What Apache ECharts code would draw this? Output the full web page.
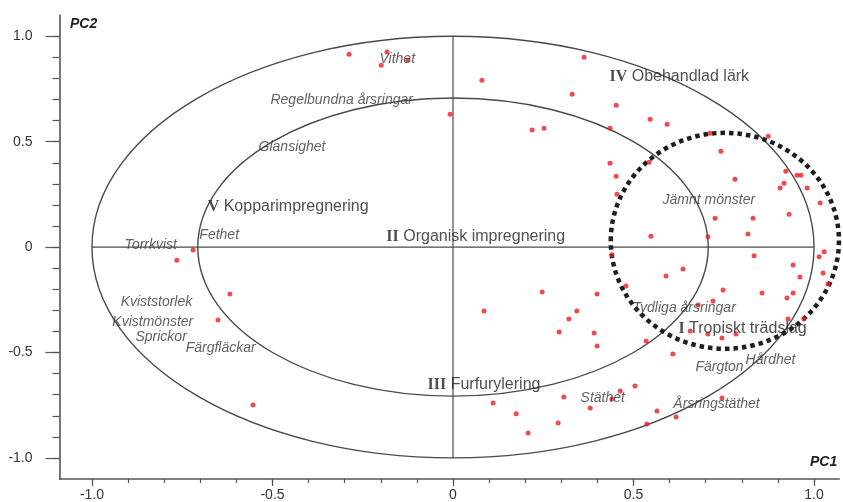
<!DOCTYPE html>
<html>
<head>
<meta charset="utf-8">
<script src="https://cdn.jsdelivr.net/npm/echarts@6/dist/echarts.min.js"></script>
<style>html,body{margin:0;padding:0;background:#fff}#c{width:843px;height:502px}</style>
</head>
<body>
<div id="c"></div>
<script>
// ---- data ----
const pc1 = [-0.288,-0.183,-0.199,-0.125,0.080,0.330,-0.008,0.219,0.252,0.363,0.452,0.546,0.593,0.435,0.712,0.873,0.742,0.435,0.543,0.452,0.922,0.953,0.964,0.781,0.917,0.906,0.981,0.454,1.017,0.931,0.726,0.831,0.817,0.548,0.706,
  0.834,1.014,1.028,0.440,0.942,0.637,0.590,0.961,1.025,1.039,0.479,0.748,0.399,0.856,0.942,0.925,0.720,0.679,0.343,0.321,0.928,0.972,0.294,0.391,0.399,0.535,0.657,0.706,0.745,0.784,0.609,0.247,0.086,0.307,0.111,0.175,0.291,0.208,0.380,0.440,0.463,0.504,0.565,0.537,0.618,0.745,
  -0.720,-0.765,-0.618,-0.651,-0.554];
const pc2 = [0.915,0.925,0.863,0.886,0.791,0.725,0.630,0.555,0.564,0.900,0.673,0.607,0.583,0.564,0.540,0.526,0.455,0.398,0.403,0.336,0.360,0.341,0.341,0.322,0.303,0.280,0.280,0.251,0.209,0.156,0.137,0.137,0.062,0.052,0.049,
  -0.041,-0.046,-0.022,-0.036,-0.085,-0.104,-0.137,-0.142,-0.123,-0.175,-0.185,-0.204,-0.223,-0.218,-0.218,-0.242,-0.256,-0.275,-0.303,-0.341,-0.341,-0.341,-0.403,-0.408,-0.469,-0.445,-0.398,-0.412,-0.431,-0.412,-0.507,-0.213,-0.303,-0.711,-0.739,-0.791,-0.834,-0.882,-0.763,-0.720,-0.682,-0.659,-0.777,-0.839,-0.806,-0.716,
  -0.014,-0.062,-0.223,-0.346,-0.749];

const attrNames = ['Vithet','Regelbundna årsringar','Glansighet','Fethet','Torrkvist','Kviststorlek','Kvistmönster','Sprickor','Färgfläckar','Jämnt mönster','Tydliga årsringar','Hårdhet','Färgton','Stäthet','Årsringstäthet'];
const attrX = [-0.205,-0.507,-0.540,-0.704,-0.911,-0.922,-0.945,-0.881,-0.742,0.579,0.496,0.809,0.670,0.352,0.609];
const attrY = [0.892,0.698,0.475,0.058,0.011,-0.259,-0.354,-0.425,-0.477,0.224,-0.288,-0.534,-0.567,-0.714,-0.747];

const groupNumerals = ['IV','V','II','I','III'];
const groupNames = ['Obehandlad lärk','Kopparimpregnering','Organisk impregnering','Tropiskt trädslag','Furfurylering'];
const groupX = [0.432,-0.681,-0.186,0.623,-0.072];
const groupY = [0.807,0.191,0.049,-0.387,-0.653];

const refRadii = [1.0, 0.707];
const focusCircle = {cx: 0.753, cy: 0.030, rx: 0.316, ry: 0.512};

const majorTicks = [-1.0,-0.5,0,0.5,1.0];
const minorTicks = [-1.0,-0.9,-0.8,-0.7,-0.6,-0.5,-0.4,-0.3,-0.2,-0.1,0,0.1,0.2,0.3,0.4,0.5,0.6,0.7,0.8,0.9,1.0];

// ---- chart ----
const chart = echarts.init(document.getElementById('c'), null, {renderer:'canvas'});
const fmt = v => (Math.abs(v) < 1e-9 ? '0' : v.toFixed(1));
const axisColor = '#555';
const X_MIN = -1.09, X_MAX = 1.07, Y_MIN = -1.1, Y_MAX = 1.1;

function xAxisDef(major) {
  return {
    type:'value', min:X_MIN, max:X_MAX, position:'bottom',
    axisLine:{show:major, onZero:false, lineStyle:{color:axisColor, width:1.6}},
    axisTick:{show:true, inside:false, customValues: major ? majorTicks : minorTicks, length: major ? 7 : 4, lineStyle:{color:axisColor, width:1.2}},
    axisLabel:{show:major, customValues:majorTicks, formatter:fmt, fontSize:14, color:'#333', margin:9, fontFamily:'Liberation Sans, Arial, sans-serif'},
    splitLine:{show:false}
  };
}
function yAxisDef(major) {
  return {
    type:'value', min:Y_MIN, max:Y_MAX, position:'left',
    axisLine:{show:major, onZero:false, lineStyle:{color:axisColor, width:1.6}},
    axisTick:{show:true, inside:false, customValues: major ? majorTicks : minorTicks, length: major ? 14 : 7, lineStyle:{color:axisColor, width:1.2}},
    axisLabel:{show:major, customValues:majorTicks, formatter:fmt, fontSize:14, color:'#333', margin:27, fontFamily:'Liberation Sans, Arial, sans-serif'},
    splitLine:{show:false}
  };
}

const italicStyle = {fontFamily:'Liberation Sans, Arial, sans-serif', fontStyle:'italic', fontSize:14, color:'#3a3a3a'};

chart.setOption({
  animation:false,
  backgroundColor:'#fff',
  grid:{left:59.5, right:3.7, top:15.2, bottom:22.6, containLabel:false},
  xAxis:[xAxisDef(true), xAxisDef(false)],
  yAxis:[yAxisDef(true), yAxisDef(false)],
  graphic:[
    {type:'text', left:70, top:17, style:{text:'PC2', font:'italic bold 14px "Liberation Sans", Arial, sans-serif', fill:'#222'}},
    {type:'text', left:810, top:455, style:{text:'PC1', font:'italic bold 14px "Liberation Sans", Arial, sans-serif', fill:'#222'}}
  ],
  series:[
    {
      type:'custom', coordinateSystem:'cartesian2d', xAxisIndex:0, yAxisIndex:0, clip:false, z:1, silent:true,
      data:[[0,0]],
      renderItem:function(params, api){
        const c = api.coord([0,0]);
        const u = api.size([1,1]);
        const kids = [];
        refRadii.forEach(r => kids.push({type:'ellipse', shape:{cx:c[0], cy:c[1], rx:u[0]*r, ry:u[1]*r}, style:{fill:'none', stroke:'#4a4a4a', lineWidth:1.4}}));
        const h1 = api.coord([-1,0]), h2 = api.coord([1,0]);
        const v1 = api.coord([0,-1]), v2 = api.coord([0,1]);
        kids.push({type:'line', shape:{x1:h1[0], y1:h1[1], x2:h2[0], y2:h2[1]}, style:{stroke:'#4a4a4a', lineWidth:1.2}});
        kids.push({type:'line', shape:{x1:v1[0], y1:v1[1], x2:v2[0], y2:v2[1]}, style:{stroke:'#4a4a4a', lineWidth:1.2}});
        const fc = api.coord([focusCircle.cx, focusCircle.cy]);
        kids.push({type:'ellipse', shape:{cx:fc[0], cy:fc[1], rx:u[0]*focusCircle.rx, ry:u[1]*focusCircle.ry}, style:{fill:'none', stroke:'#1e1e1e', lineWidth:4.5, lineDash:[4.5,4]}});
        return {type:'group', children:kids};
      }
    },
    {
      type:'scatter', xAxisIndex:0, yAxisIndex:0, z:3, symbol:'circle', symbolSize:5,
      itemStyle:{color:'#ee1c24'},
      data: pc1.map((x,i) => [x, pc2[i]])
    },
    {
      type:'scatter', xAxisIndex:0, yAxisIndex:0, z:4, symbolSize:1, itemStyle:{color:'rgba(0,0,0,0)'}, silent:true,
      label:{show:true, position:'right', distance:0, formatter:p => p.name, ...italicStyle, verticalAlign:'middle', align:'left'},
      labelLayout:{hideOverlap:false},
      data: attrNames.map((n,i) => ({name:n, value:[attrX[i], attrY[i]]}))
    },
    {
      type:'scatter', xAxisIndex:0, yAxisIndex:0, z:4, symbolSize:1, itemStyle:{color:'rgba(0,0,0,0)'}, silent:true,
      label:{show:true, position:'right', distance:0, verticalAlign:'middle', align:'left',
        formatter:p => '{n|' + groupNumerals[p.dataIndex] + '}{t| ' + p.name + '}',
        rich:{
          n:{fontFamily:'Liberation Serif, Times New Roman, serif', fontWeight:'bold', fontSize:16, color:'#222'},
          t:{fontFamily:'Liberation Sans, Arial, sans-serif', fontSize:16, color:'#222'}
        }},
      labelLayout:{hideOverlap:false},
      data: groupNames.map((n,i) => ({name:n, value:[groupX[i], groupY[i]]}))
    }
  ]
});
</script>
</body>
</html>
